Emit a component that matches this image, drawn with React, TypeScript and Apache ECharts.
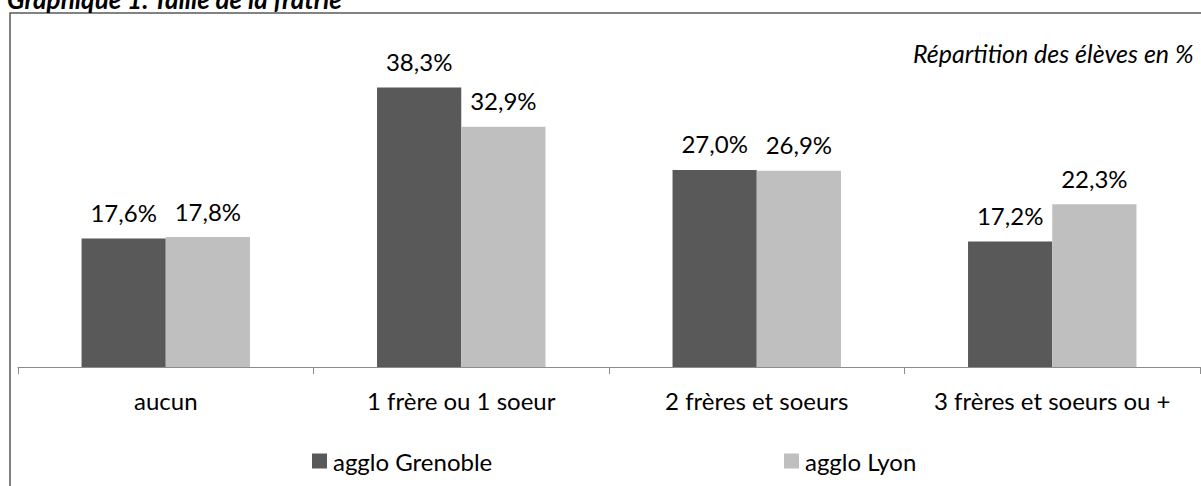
import React, { useEffect, useRef } from "react";
import * as echarts from "echarts";

const categories = ["aucun", "1 frère ou 1 soeur", "2 frères et soeurs", "3 frères et soeurs ou +"];
const grenoble = [17.6, 38.3, 27.0, 17.2];
const lyon = [17.8, 32.9, 26.9, 22.3];
const seriesNames = ["agglo Grenoble", "agglo Lyon"];
const title = "Graphique 1. Taille de la fratrie";
const subtitle = "Répartition des élèves en %";

const FONT = "Lato, 'Open Sans', sans-serif";

export default function App() {
  const ref = useRef<HTMLDivElement>(null);
  useEffect(() => {
    if (!ref.current) return;
    const chart = echarts.init(ref.current, null, { renderer: "svg" });
    const fmt = (p: any) => p.value.toFixed(1).replace(".", ",") + "%";
    const legendText = { fontSize: 24, color: "#000", fontFamily: FONT, padding: [0, 0, 0, 1] };
    chart.setOption({
      animation: false,
      backgroundColor: "#ffffff",
      textStyle: { fontFamily: FONT },
      grid: { left: 18, right: 1, top: 38.5, bottom: 119, containLabel: false },
      xAxis: {
        type: "category",
        data: categories,
        axisLine: { lineStyle: { color: "#8c8c8c", width: 1 } },
        axisTick: { show: true, interval: 0, length: 7, lineStyle: { color: "#8c8c8c" } },
        axisLabel: { interval: 0, hideOverlap: false, color: "#000", fontSize: 24, fontFamily: FONT, margin: 21 },
      },
      yAxis: {
        type: "value",
        min: 0,
        max: 45,
        show: false,
        splitLine: { show: false },
      },
      legend: [
        {
          data: [seriesNames[0]],
          left: 312,
          top: 449,
          padding: 0,
          itemWidth: 15,
          itemHeight: 15,
          itemGap: 0,
          icon: "rect",
          textStyle: legendText,
        },
        {
          data: [seriesNames[1]],
          left: 784,
          top: 449,
          padding: 0,
          itemWidth: 15,
          itemHeight: 15,
          itemGap: 0,
          icon: "rect",
          textStyle: legendText,
        },
      ],
      series: [
        {
          name: seriesNames[0],
          type: "bar",
          data: grenoble,
          itemStyle: { color: "#595959" },
          barGap: "0%",
          barCategoryGap: "43%",
          label: {
            show: true,
            position: "top",
            distance: 14,
            formatter: fmt,
            fontSize: 24,
            color: "#000",
            fontFamily: FONT,
          },
        },
        {
          name: seriesNames[1],
          type: "bar",
          data: lyon,
          itemStyle: { color: "#bfbfbf" },
          barGap: "0%",
          barCategoryGap: "43%",
          label: {
            show: true,
            position: "top",
            distance: 14,
            formatter: fmt,
            fontSize: 24,
            color: "#000",
            fontFamily: FONT,
          },
        },
      ],
      graphic: [
        {
          type: "rect",
          shape: { x: 10, y: 13, width: 1200, height: 480 },
          style: { fill: "none", stroke: "#5a5a5a", lineWidth: 1.5 },
          silent: true,
        },
        {
          type: "text",
          x: 7,
          y: -14,
          style: {
            text: title,
            font: "italic bold 26px " + FONT,
            fill: "#000",
          },
        },
        {
          type: "text",
          x: 913,
          y: 40,
          style: {
            text: subtitle,
            font: "italic 25px " + FONT,
            fill: "#000",
          },
        },
      ],
    });
    return () => chart.dispose();
  }, []);
  return (
    <div
      ref={ref}
      style={{ position: "absolute", left: 0, top: 0, width: 1201, height: 486 }}
    />
  );
}
